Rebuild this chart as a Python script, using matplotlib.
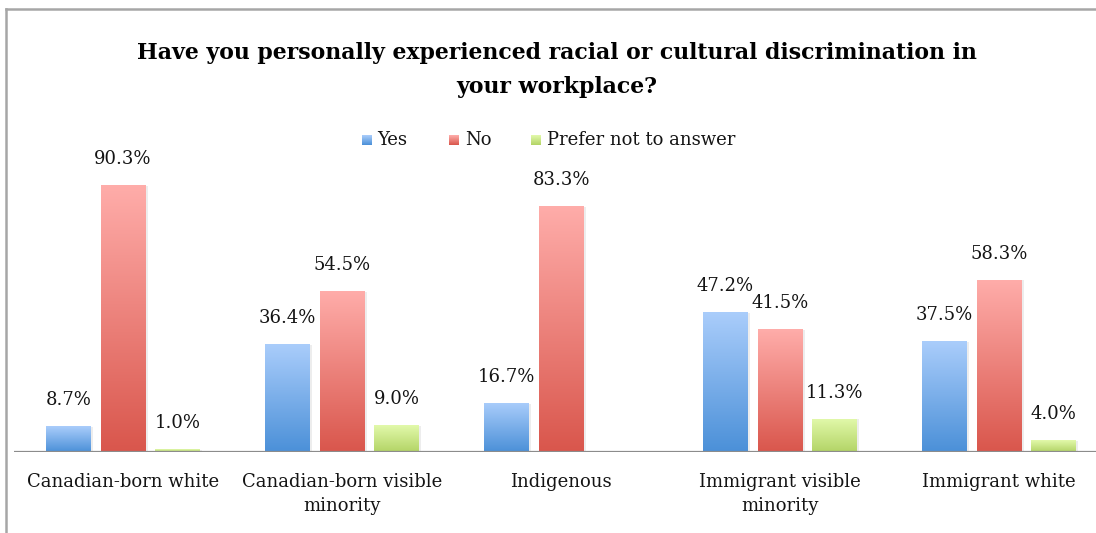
import numpy as np
import matplotlib
matplotlib.use("Agg")
import matplotlib.pyplot as plt
from matplotlib.colors import LinearSegmentedColormap
from matplotlib.lines import Line2D

# survey responses (%)
categories = ["Canadian-born white", "Canadian-born visible\nminority", "Indigenous",
              "Immigrant visible\nminority", "Immigrant white"]
series_names = ["Yes", "No", "Prefer not to answer"]
yes_pct = [8.7, 36.4, 16.7, 47.2, 37.5]
no_pct = [90.3, 54.5, 83.3, 41.5, 58.3]
pref_pct = [1.0, 9.0, np.nan, 11.3, 4.0]

# (top colour, bottom colour) of each bar gradient
gradients = [("#aacdfb", "#4b90d8"),
             ("#ffadaa", "#d9564c"),
             ("#e2f9ab", "#b3d466")]

plt.rcParams["font.family"] = "DejaVu Serif"
TEXT = "#141414"

fig = plt.figure(figsize=(10.96, 5.33), dpi=100)
W, H = 1096, 533
base_px, top_px = 452, 452 - 2.957 * 100
left_px, right_px = 13.5, 1108.5
ax = fig.add_axes([left_px / W, (H - base_px) / H,
                   (right_px - left_px) / W, (base_px - top_px) / H])
ax.set_xlim(-0.5, 4.5)
ax.set_ylim(0, 100)
ax.axis("off")

x = np.arange(len(categories))
width = 0.203
step = 0.249

def gradient_fill(patch, c_top, c_bot):
    cmap = LinearSegmentedColormap.from_list("g", [c_bot, c_top])
    bb = patch.get_bbox()
    grad = np.linspace(0, 1, 256).reshape(-1, 1)
    im = ax.imshow(grad, cmap=cmap, aspect="auto", origin="lower",
                   extent=[bb.x0, bb.x1, bb.y0, bb.y1], zorder=3)
    im.set_clip_path(patch)

for i, (vals, (ct, cb)) in enumerate(zip([yes_pct, no_pct, pref_pct], gradients)):
    vals = np.array(vals, dtype=float)
    xs = x + (i - 1) * step
    ok = ~np.isnan(vals)
    # soft shadow behind each bar
    ax.bar(xs[ok] + 0.006, vals[ok], width + 0.01, bottom=-0.3,
           color="#000000", alpha=0.07, linewidth=0, zorder=2)
    bars = ax.bar(xs[ok], vals[ok], width, color="none", linewidth=0, zorder=3)
    for b in bars:
        gradient_fill(b, ct, cb)
    for xi, v in zip(xs[ok], vals[ok]):
        ax.annotate(f"{v:.1f}%", (xi, v), xytext=(0, 26), textcoords="offset pixels",
                    ha="center", va="center", fontsize=13, color=TEXT)

# baseline
ax.axhline(0, color="#8c8c8c", linewidth=1.6, zorder=4)

# category labels under each group
for xi, lab in zip(x, categories):
    ax.annotate(lab, (xi, 0), xytext=(0, -21), textcoords="offset pixels",
                ha="center", va="top", fontsize=13, color=TEXT, linespacing=1.45)

# legend with small gradient squares
leg_y = 1 - 140 / H
leg_items = [(362, 377), (449, 465), (531, 547)]
for (sx, tx), name, (ct, cb) in zip(leg_items, series_names, gradients):
    cax = fig.add_axes([sx / W, leg_y - 5 / H, 10 / W, 10 / H])
    cmap = LinearSegmentedColormap.from_list("g", [cb, ct])
    cax.imshow(np.linspace(0, 1, 32).reshape(-1, 1), cmap=cmap, aspect="auto", origin="lower")
    cax.axis("off")
    fig.text(tx / W, leg_y, name, ha="left", va="center", fontsize=13, color=TEXT)

fig.text(557 / W, 1 - 70 / H,
         "Have you personally experienced racial or cultural discrimination in\nyour workplace?",
         ha="center", va="center", fontsize=15.8, fontweight="bold", color="#000000",
         linespacing=1.72)

# outer chart frame
fig.add_artist(Line2D([5.5 / W, 5.5 / W], [0, 1 - 8.5 / H], color="#a6a6a6", linewidth=1.8))
fig.add_artist(Line2D([5.5 / W, 1.0], [1 - 8.5 / H, 1 - 8.5 / H], color="#a6a6a6", linewidth=1.8))

fig.savefig("out.png", dpi=100, facecolor="white")
